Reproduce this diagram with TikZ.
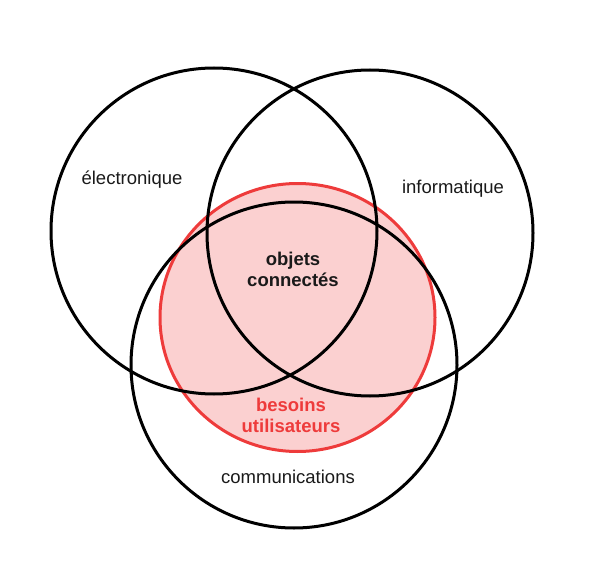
\documentclass[tikz,border=0pt]{standalone}
\usepackage{fontspec}
\setmainfont{Liberation Sans}
\usepackage{tikz}
\usetikzlibrary{positioning,shapes.geometric}
\definecolor{vennred}{HTML}{EE3B3B}
\definecolor{vennpink}{HTML}{FBD0D0}
\definecolor{venntext}{HTML}{1A1A1A}
\tikzset{
  vennset/.style={circle,draw=black,line width=3pt,inner sep=0pt,minimum size=326pt},
  vennuser/.style={ellipse,draw=vennred,fill=vennpink,line width=3pt,inner sep=0pt,minimum width=275pt,minimum height=268pt},
  vennlabel/.style={font=\fontsize{18.5}{22}\selectfont,text=venntext,align=center},
  venncore/.style={font=\fontsize{18.5}{21}\selectfont\bfseries,align=center}
}
\begin{document}
\begin{tikzpicture}[x=1pt,y=-1pt]
\useasboundingbox (0,0) rectangle (595,586);
\node[vennuser] (u) at (297.5,317.5) {};
\node[vennset] (e) at (214,231) {};
\node[vennset] (i) at (370,233) {};
\node[vennset] (c) at (294,365) {};
\node[vennlabel] (el) at (132,180) {électronique};
\node[vennlabel] (il) at (453,189) {informatique};
\node[vennlabel] (cl) at (288,477) {communications};
\node[venncore,text=venntext] (ol) at (293,269) {objets\\connectés};
\node[venncore,text=vennred] (ul) at (291,415) {besoins\\utilisateurs};
\end{tikzpicture}
\end{document}
